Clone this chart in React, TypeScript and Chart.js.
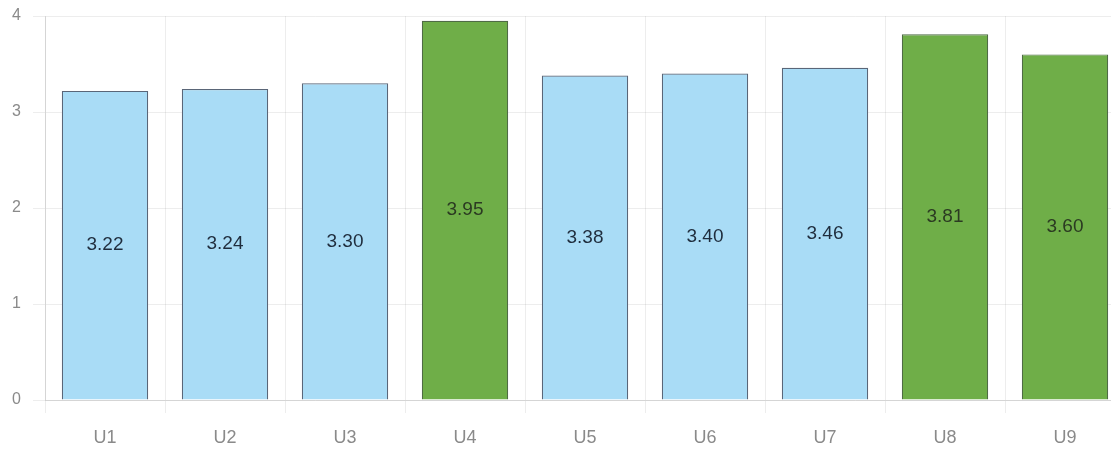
import React, { useEffect, useRef } from "react";
import { Chart, registerables } from "chart.js";

Chart.register(...registerables);

const categories = ["U1", "U2", "U3", "U4", "U5", "U6", "U7", "U8", "U9"];
const values = [3.22, 3.24, 3.3, 3.95, 3.38, 3.4, 3.46, 3.81, 3.6];
const highlight = [false, false, false, true, false, false, false, true, true];
const yTicks = [0, 1, 2, 3, 4];

const BLUE = "#a9dcf6";
const GREEN = "#6fae48";
const FONT = "'Liberation Sans', Arial, sans-serif";

const valueLabels = {
  id: "valueLabels",
  afterDatasetsDraw(chart: any) {
    const ctx = chart.ctx;
    const meta = chart.getDatasetMeta(0);
    ctx.save();
    ctx.font = "19px " + FONT;
    ctx.textAlign = "center";
    ctx.textBaseline = "middle";
    meta.data.forEach((bar: any, i: number) => {
      const yMid = (bar.y + bar.base) / 2;
      ctx.fillStyle = highlight[i] ? "#2b3a22" : "#1f2d3d";
      ctx.fillText(values[i].toFixed(2), bar.x, yMid);
    });
    ctx.restore();
  },
};

export default function App() {
  const ref = useRef<HTMLCanvasElement>(null);
  useEffect(() => {
    if (!ref.current) return;
    const chart = new Chart(ref.current, {
      type: "bar",
      data: {
        labels: categories,
        datasets: [
          {
            data: values,
            backgroundColor: highlight.map((h) => (h ? GREEN : BLUE)),
            borderColor: highlight.map((h) => (h ? "#4f6b45" : "#5a6678")),
            borderWidth: 1.2,
            categoryPercentage: 0.8,
            barPercentage: 0.9,
          },
        ],
      },
      options: {
        animation: false,
        responsive: true,
        maintainAspectRatio: false,
        layout: { padding: { top: 16, right: 5, left: 0, bottom: 0 } },
        plugins: { legend: { display: false }, tooltip: { enabled: false } },
        scales: {
          x: {
            grid: { color: "rgba(0,0,0,0.07)", tickLength: 13, offset: true },
            border: { color: "rgba(0,0,0,0.1)" },
            ticks: {
              color: "#8a8a8a",
              padding: 14,
              font: { size: 18, family: FONT },
            },
            afterFit: (s: any) => {
              s.height = 54;
            },
          },
          y: {
            min: 0,
            max: 4,
            afterBuildTicks: (s: any) => {
              s.ticks = yTicks.map((v) => ({ value: v }));
            },
            grid: { color: "rgba(0,0,0,0.07)", tickLength: 12 },
            border: { color: "rgba(0,0,0,0.1)" },
            ticks: {
              color: "#8a8a8a",
              padding: 12,
              font: { size: 16, family: FONT },
            },
            afterFit: (s: any) => {
              s.width = 45;
              s.paddingTop = 0;
              s.paddingBottom = 0;
            },
          },
        },
      },
      plugins: [valueLabels],
    });
    return () => chart.destroy();
  }, []);
  return (
    <div style={{ position: "fixed", left: 0, top: 0, width: 1130, height: 454, background: "#fff" }}>
      <canvas ref={ref} />
    </div>
  );
}
